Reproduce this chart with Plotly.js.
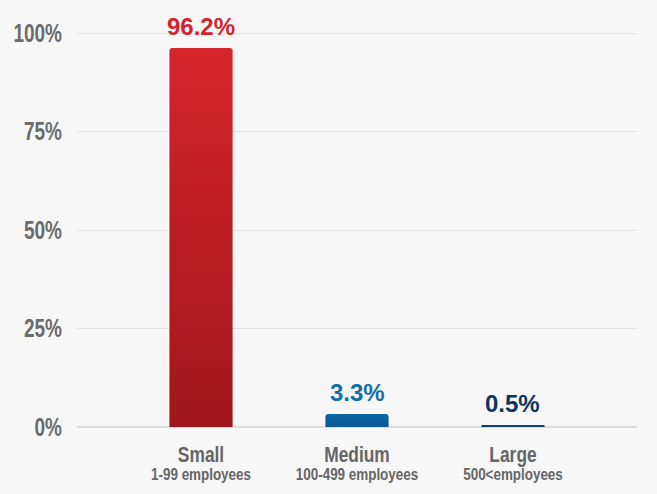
<!DOCTYPE html>
<html>
<head>
<meta charset="utf-8">
<script src="https://cdn.plot.ly/plotly-3.0.1.min.js"></script>
<style>
html,body{margin:0;padding:0;background:#f7f7f7;}
#chart{width:657px;height:494px;}
</style>
</head>
<body>
<div id="chart"></div>
<script>
var categories = ["Small", "Medium", "Large"];
var subLabels = ["1-99 employees", "100-499 employees", "500<employees"];
var shares = [96.2, 3.3, 0.5];
var valueLabels = ["96.2%", "3.3%", "0.5%"];
var barColors = ["#d3232b", "#0a64a0", "#0e3d70"];
var labelColors = ["#d3232b", "#1270a8", "#0d3361"];
var yTickVals = [0, 25, 50, 75, 100];
var yTickText = ["0%", "25%", "50%", "75%", "100%"];

var tickText = categories.map(function (c, i) {
  return "<span style='font-size:22px'>" + c + "</span><br><span style='font-size:17px'>" + subLabels[i] + "</span>";
});

var trace = {
  type: "bar",
  x: categories,
  y: shares,
  width: 0.405,
  marker: { color: barColors, line: { width: 0 } },
  hoverinfo: "none"
};

var annotations = categories.map(function (c, i) {
  return {
    x: c, y: shares[i], xref: "x", yref: "y",
    text: valueLabels[i], showarrow: false,
    yanchor: "bottom", yshift: 6,
    font: { family: "Liberation Sans, Arial, sans-serif", size: 24, color: labelColors[i], weight: "bold" }
  };
});

var layout = {
  width: 657, height: 494,
  margin: { l: 77, r: 20, t: 20, b: 67 },
  paper_bgcolor: "#f7f7f7",
  plot_bgcolor: "#f7f7f7",
  showlegend: false,
  barcornerradius: 3,
  xaxis: {
    type: "category",
    range: [-0.795, 2.795],
    tickvals: categories,
    ticktext: tickText,
    showgrid: false, zeroline: false, showline: false,
    ticks: "",
    tickfont: { family: "Liberation Sans, Arial, sans-serif", size: 14, color: "#666666", weight: "bold" },
    ticklabelstandoff: 20
  },
  yaxis: {
    range: [0, 103.3],
    tickvals: yTickVals,
    ticktext: yTickText,
    showgrid: true, gridcolor: "#e2e2e2", gridwidth: 1,
    zeroline: true, zerolinecolor: "#dcdcdc", zerolinewidth: 1.5,
    showline: false, ticks: "",
    ticklabelstandoff: 14,
    tickfont: { family: "Liberation Sans, Arial, sans-serif", size: 25, color: "#6b6b6b", weight: "bold" }
  },
  annotations: annotations
};

Plotly.newPlot("chart", [trace], layout, { displayModeBar: false, staticPlot: true }).then(function (gd) {
  var svg = gd.querySelector("svg.main-svg");
  var ns = "http://www.w3.org/2000/svg";
  var defs = svg.querySelector("defs");
  function addGrad(id, top, bottom) {
    var g = document.createElementNS(ns, "linearGradient");
    g.setAttribute("id", id);
    g.setAttribute("x1", "0"); g.setAttribute("y1", "0");
    g.setAttribute("x2", "0"); g.setAttribute("y2", "1");
    var s1 = document.createElementNS(ns, "stop");
    s1.setAttribute("offset", "0"); s1.setAttribute("stop-color", top);
    var s2 = document.createElementNS(ns, "stop");
    s2.setAttribute("offset", "1"); s2.setAttribute("stop-color", bottom);
    g.appendChild(s1); g.appendChild(s2);
    defs.appendChild(g);
  }
  addGrad("gradRed", "#d5242c", "#9f161c");
  addGrad("gradBlue", "#0a66a2", "#0b5894");
  var paths = gd.querySelectorAll(".barlayer .point path");
  if (paths[0]) paths[0].style.fill = "url(#gradRed)";
  if (paths[1]) paths[1].style.fill = "url(#gradBlue)";

  // condense the axis label lettering (narrow typeface look)
  function condense(sel, mode, s) {
    gd.querySelectorAll(sel).forEach(function (t) {
      var b = t.getBBox();
      var ax = mode === "right" ? b.x + b.width : b.x + b.width / 2;
      var tr = t.getAttribute("transform") || "";
      t.setAttribute("transform", tr + " translate(" + ax + ",0) scale(" + s + ",1) translate(" + (-ax) + ",0)");
    });
  }
  condense(".ytick text", "right", 0.76);
  condense(".xtick text", "center", 0.79);
});
</script>
</body>
</html>
